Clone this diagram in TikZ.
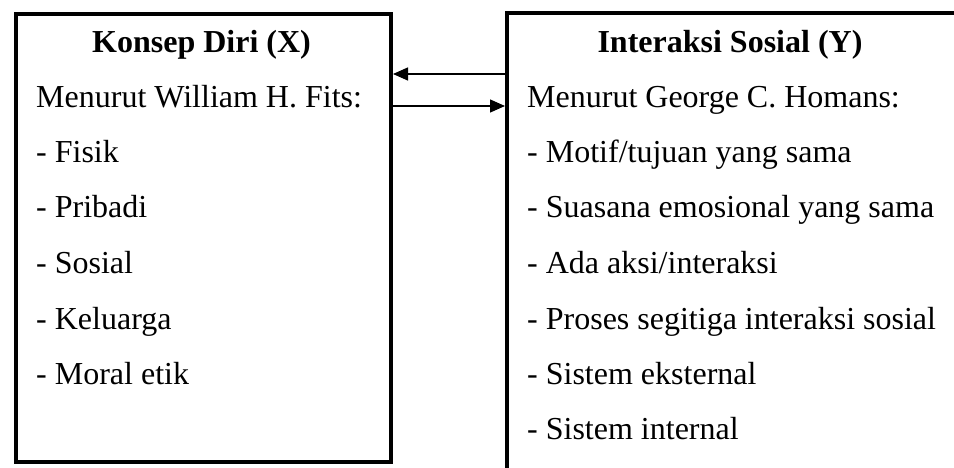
\documentclass[tikz,border=0pt]{standalone}
\usepackage{fontspec}
\setmainfont{Liberation Serif}
\usetikzlibrary{arrows.meta}
\begin{document}
\begin{tikzpicture}[x=1pt,y=-1pt,
  frame/.style={draw, line width=4pt, inner sep=0pt, anchor=north west},
  title/.style={anchor=base, inner sep=0pt, font=\fontsize{32}{38}\selectfont\bfseries},
  item/.style={anchor=base west, inner sep=0pt, font=\fontsize{32}{38}\selectfont},
  link/.style={line width=1.3pt, -{Triangle[length=15pt,width=13pt]}}]
\useasboundingbox (0,0) rectangle (954,468);
\clip (0,0) rectangle (954,468);

% the two variable boxes
\node[frame, minimum width=375pt, minimum height=448pt] (xbox) at (14,12) {};
\node[frame, minimum width=452pt, minimum height=462pt] (ybox) at (505,11) {};

% left box: self-concept
\node[title] (xt) at (201.5,53) {Konsep Diri (X)};
\node[item] (x0) at (36,108) {Menurut William H. Fits:};
\node[item] (x1) at (36,163) {- Fisik};
\node[item] (x2) at (36,218) {- Pribadi};
\node[item] (x3) at (36,273) {- Sosial};
\node[item] (x4) at (36,329) {- Keluarga};
\node[item] (x5) at (36,384) {- Moral etik};

% right box: social interaction
\node[title] (yt) at (730,53) {Interaksi Sosial (Y)};
\node[item] (y0) at (527,108) {Menurut George C. Homans:};
\node[item] (y1) at (527,163) {- Motif/tujuan yang sama};
\node[item] (y2) at (527,218) {- Suasana emosional yang sama};
\node[item] (y3) at (527,273) {- Ada aksi/interaksi};
\node[item] (y4) at (527,329) {- Proses segitiga interaksi sosial};
\node[item] (y5) at (527,384) {- Sistem eksternal};
\node[item] (y6) at (527,439) {- Sistem internal};

% reciprocal links
\draw[link] (ybox.west |- 0,74) -- (xbox.east |- 0,74);
\draw[link] (xbox.east |- 0,106) -- (ybox.west |- 0,106);
\end{tikzpicture}
\end{document}
